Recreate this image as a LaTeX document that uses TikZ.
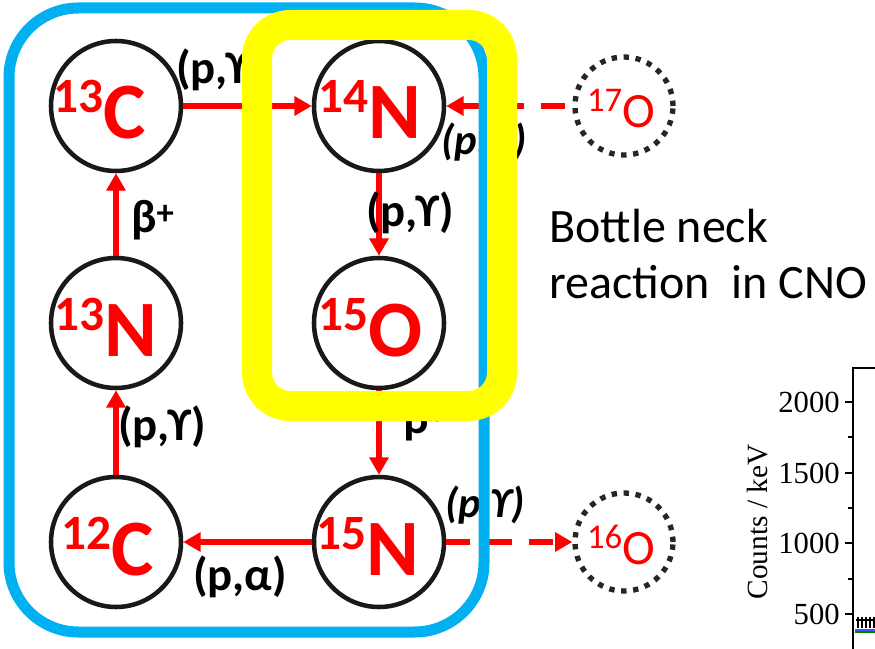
\documentclass[tikz,border=0pt]{standalone}
\usepackage{fontspec}
\setmainfont{Carlito}
\newfontfamily\plotfont{Liberation Serif}
\usetikzlibrary{arrows.meta}

\definecolor{cnored}{RGB}{255,0,0}
\definecolor{cnoblue}{RGB}{0,176,240}
\definecolor{cnoyellow}{RGB}{255,255,0}

\newcommand\mass[1]{\raisebox{19.5pt}{\fontsize{37}{37}\selectfont #1}}
\newcommand\smass[1]{\raisebox{12pt}{\fontsize{26}{26}\selectfont #1}}
\newcommand\bplus{\raisebox{6.5pt}{\fontsize{26}{26}\selectfont +}}

\tikzstyle{nuc} = [circle, draw=black!90, line width=3.4pt, minimum size=97.5pt, inner sep=0pt]
\tikzstyle{side} = [circle, draw=black!85, line width=4pt, dash pattern=on 4pt off 5pt, minimum size=73.5pt, inner sep=0pt]
\tikzstyle{iso} = [anchor=base, text=cnored, font=\bfseries\fontsize{60}{60}\selectfont, inner sep=0pt]
\tikzstyle{siso} = [anchor=base, text=cnored, font=\fontsize{37}{37}\selectfont, inner sep=0pt]
\tikzstyle{reac} = [anchor=base west, font=\bfseries\fontsize{35}{35}\selectfont, inner sep=0pt]
\tikzstyle{ireac} = [reac, font=\bfseries\itshape\fontsize{32}{32}\selectfont]
\tikzstyle{arrow} = [line width=4pt, cnored, -{Triangle[length=13pt,width=14pt]}]
\tikzstyle{darrow} = [arrow, dash pattern=on 18pt off 13pt]
\tikzstyle{axis} = [line width=1.1pt, black]

\begin{document}
\begin{tikzpicture}[x=0.75pt, y=-0.75pt]
    \useasboundingbox (0,0) rectangle (875,649);

    % nuclei of the cycle
    \node (c13) [nuc] at (116,106) {};
    \node (n14) [nuc] at (379,106) {};
    \node (n13) [nuc] at (116,323) {};
    \node (o15) [nuc] at (379,323) {};
    \node (c12) [nuc] at (116,542) {};
    \node (n15) [nuc] at (379,542) {};
    \node (o17) [side] at (624,106) {};
    \node (o16) [side] at (624,542) {};

    \node (c13t) [iso] at (100,139) {\mass{13}C};
    \node (n14t) [iso] at (370,139) {\mass{14}N};
    \node (n13t) [iso] at (106,356) {\mass{13}N};
    \node (o15t) [iso] at (371,356) {\mass{15}O};
    \node (c12t) [iso] at (108,575) {\mass{12}C};
    \node (n15t) [iso] at (368,575) {\mass{15}N};
    \node (o17t) [siso] at (621,128) {\smass{17}O};
    \node (o16t) [siso] at (621,564) {\smass{16}O};

    \draw [arrow] (c13) -- (n14);
    \draw [arrow] (n14) -- (o15);
    \draw [arrow] (o15) -- (n15);
    \draw [arrow] (n15) -- (c12);
    \draw [arrow] (c12) -- (n13);
    \draw [arrow] (n13) -- (c13);
    \draw [darrow, dash phase=25.5pt] (o17) -- (n14);
    \draw [darrow] (n15) -- (o16);

    \node (lpg1) [reac] at (176,84) {(p,ϒ)};
    \node (lpa1) [ireac] at (441,155) {(p,α)};
    \node (lpg2) [reac] at (366,227) {(p,ϒ)};
    \node (lb1) [reac] at (131,233) {β\bplus};
    \node (lb2) [reac] at (403,433) {β\bplus};
    \node (lpg3) [reac] at (118,440) {(p,ϒ)};
    \node (lpa2) [reac] at (193,590) {(p,α)};
    \node (lpg4) [ireac] at (445,517) {(p,ϒ)};

    % frames
    \draw [cnoblue, line width=8.25pt, rounded corners=52pt] (9,8) rectangle (484,632);
    \draw [cnoyellow, line width=22.5pt, rounded corners=25pt] (257,25) rectangle (502,406);

    \node (neck) [anchor=base west, align=left, inner sep=0pt, font=\fontsize{36}{42}\selectfont] at (549,298) {Bottle neck\\reaction~~in CNO};

    % piece of the spectrum
    \draw [axis] (853,649) -- (853,368) -- (875,368);
    \foreach \y/\v in {402/2000, 473/1500, 543/1000, 614/500} {
        \draw [axis] (845,\y) -- (853,\y);
        \node (tick\v) [anchor=east, inner sep=0pt, font=\plotfont\fontsize{23}{23}\selectfont] at (840,\y) {\v};
    }
    \foreach \y in {437,508,579}
        \draw [axis] (848,\y) -- (853,\y);
    \node (counts) [rotate=90, font=\plotfont\fontsize{22}{22}\selectfont] at (758,522) {Counts / keV};
    \fill [blue!70] (855,629) rectangle (875,631);
    \draw [green!50!black, line width=1pt] (855,632) -- (875,632);
    \draw [line width=0.8pt] (856,620) -- (875,620);
    \foreach \x in {858,862,866,870,874}
        \draw [line width=0.8pt] (\x,617) -- (\x,628);
\end{tikzpicture}
\end{document}
